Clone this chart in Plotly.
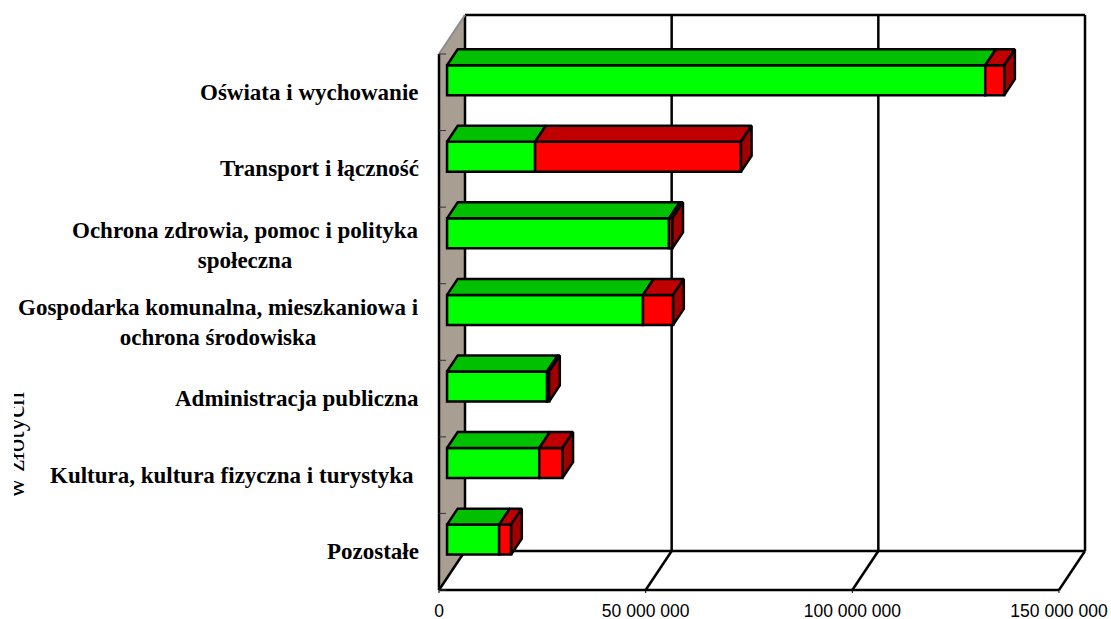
import plotly.graph_objects as go

categories = ["Oświata i wychowanie", "Transport i łączność",
              "Ochrona zdrowia, pomoc i polityka<br>społeczna",
              "Gospodarka komunalna, mieszkaniowa i<br>ochrona środowiska",
              "Administracja publiczna",
              "Kultura, kultura fizyczna i turystyka\u00a0",
              "Pozostałe"]
green_values = [130.2e6, 21.3e6, 53.7e6, 47.4e6, 24.2e6, 22.3e6, 12.6e6]
red_values = [4.6e6, 49.8e6, 0.8e6, 7.3e6, 0.5e6, 5.6e6, 2.9e6]
tick_values = [0, 50e6, 100e6, 150e6]
tick_labels = ["0", "50 000 000", "100 000 000", "150 000 000"]
axis_title = "w złotych"

W, H = 1111, 619
# pixel calibration of the pseudo-3D frame
PX_X = 620 / 150e6      # px per value unit
PX_Y = 536 / 7          # px per category band
X0, Y_BOTTOM = 439, 590
Y_TOP = 54
DEPTH_DX, DEPTH_DY = 26, 39          # frame depth in px
PAD = 4
LW = 2.5
n = len(categories)

depth_x = DEPTH_DX / PX_X            # frame depth in x units
depth_y = DEPTH_DY / PX_Y            # frame depth in y units
bar_front = 0.31                     # bar front plane, fraction of frame depth
bar_back = 0.72                      # bar back plane
bar_thick = 30 / PX_Y

fx = bar_front * depth_x
fy = bar_front * depth_y
bx = bar_back * depth_x
by = bar_back * depth_y

left_px, right_px = X0 - PAD, X0 + 620 + DEPTH_DX + PAD
top_px, bottom_px = Y_TOP - DEPTH_DY - PAD, Y_BOTTOM + PAD
x_range = [(left_px - X0) / PX_X, (right_px - X0) / PX_X]
y_range = [n - 0.5 + (bottom_px - Y_BOTTOM) / PX_Y, -0.5 - (Y_TOP - top_px) / PX_Y]

y_front_bottom = n - 0.5
y_front_top = -0.5
xmax = tick_values[-1]

shapes = []
def line(x0, y0, x1, y1, color="#000000", width=LW):
    shapes.append(dict(type="line", xref="x", yref="y", x0=x0, y0=y0, x1=x1, y1=y1,
                       layer="below", line=dict(color=color, width=width)))

# left wall
shapes.append(dict(type="path", xref="x", yref="y", layer="below",
                   path=f"M 0 {y_front_bottom} L {depth_x} {y_front_bottom-depth_y} "
                        f"L {depth_x} {y_front_top-depth_y} L 0 {y_front_top} Z",
                   fillcolor="#A89F92", line=dict(width=0)))
# back-wall gridlines and floor lines
for v in tick_values:
    line(v + depth_x, y_front_bottom - depth_y, v + depth_x, y_front_top - depth_y)
    line(v, y_front_bottom, v + depth_x, y_front_bottom - depth_y)
    line(v, y_front_bottom, v, y_front_bottom + 3 / PX_Y, width=1)
line(depth_x, y_front_top - depth_y, xmax + depth_x, y_front_top - depth_y)
line(depth_x, y_front_bottom - depth_y, xmax + depth_x, y_front_bottom - depth_y)
line(0, y_front_bottom, xmax, y_front_bottom)
line(0, y_front_bottom, 0, y_front_top)
line(0, y_front_top, depth_x, y_front_top - depth_y, color="#8C8C8C", width=2)
# category ticks
for i in range(n + 1):
    y = i - 0.5
    line(0, y, 7 / PX_X, y, color="#333333", width=1)

fig = go.Figure()

pos = [i - fy for i in range(n)]
fig.add_bar(orientation="h", y=pos, x=green_values, base=[fx] * n, width=bar_thick,
            marker=dict(color="#00FF00", line=dict(color="#000000", width=LW)),
            showlegend=False, hoverinfo="skip")
fig.add_bar(orientation="h", y=pos, x=red_values, base=[fx + g for g in green_values],
            width=bar_thick,
            marker=dict(color="#FF0000", line=dict(color="#000000", width=LW)),
            showlegend=False, hoverinfo="skip")

def face(xs, ys, color):
    fig.add_scatter(x=xs, y=ys, mode="lines", fill="toself", fillcolor=color,
                    line=dict(color="#000000", width=LW), cliponaxis=False,
                    showlegend=False, hoverinfo="skip")

ddx = bx - fx
ddy = by - fy
for i, (g, r) in enumerate(zip(green_values, red_values)):
    top = pos[i] - bar_thick / 2
    bot = pos[i] + bar_thick / 2
    x1 = fx + g
    x2 = x1 + r
    face([fx, x1, x1 + ddx, fx + ddx, fx], [top, top, top - ddy, top - ddy, top], "#00C000")
    face([x1, x2, x2 + ddx, x1 + ddx, x1], [top, top, top - ddy, top - ddy, top], "#C00000")
    face([x2, x2 + ddx, x2 + ddx, x2, x2], [top, top - ddy, bot - ddy, bot, top], "#A00000")

annotations = []
for i, c in enumerate(categories):
    annotations.append(dict(xref="paper", yref="y", x=(421 - left_px) / (right_px - left_px), y=i,
                            xanchor="right", yanchor="middle", align="center", showarrow=False,
                            text=f"<b>{c}</b>",
                            font=dict(family="Liberation Serif", size=23, color="#000000")))
# rotated axis title, its left part cut by the picture's crop
annotations.append(dict(xref="paper", yref="paper",
                        x=(15 - left_px) / (right_px - left_px),
                        y=(bottom_px - 445) / (bottom_px - top_px),
                        xanchor="center", yanchor="middle", textangle=-90, showarrow=False,
                        text=axis_title,
                        font=dict(family="Liberation Serif", size=27, color="#000000")))
annotations.append(dict(xref="paper", yref="paper",
                        x=(0 - left_px) / (right_px - left_px),
                        y=(bottom_px - 445) / (bottom_px - top_px),
                        xanchor="left", yanchor="middle", showarrow=False, text=" ",
                        width=14, height=130, bgcolor="#FFFFFF", borderpad=0, borderwidth=0))

fig.update_layout(
    width=W, height=H, barmode="overlay",
    autosize=False,
    margin=dict(l=left_px, r=W - right_px, t=top_px, b=H - bottom_px, autoexpand=False),
    paper_bgcolor="#FFFFFF", plot_bgcolor="#FFFFFF",
    shapes=shapes, annotations=annotations,
    xaxis=dict(range=x_range, tickvals=tick_values, ticktext=tick_labels, showgrid=False,
               zeroline=False, showline=False, ticks="", ticklabelstandoff=4,
               tickfont=dict(family="Liberation Sans", size=17.5, color="#000000")),
    yaxis=dict(range=y_range, showgrid=False, zeroline=False, showline=False,
               showticklabels=False, ticks=""),
)
fig.write_html("out.html", config=dict(displayModeBar=False, responsive=False),
               post_script="document.body.style.margin='0';document.documentElement.style.overflow='hidden';")
